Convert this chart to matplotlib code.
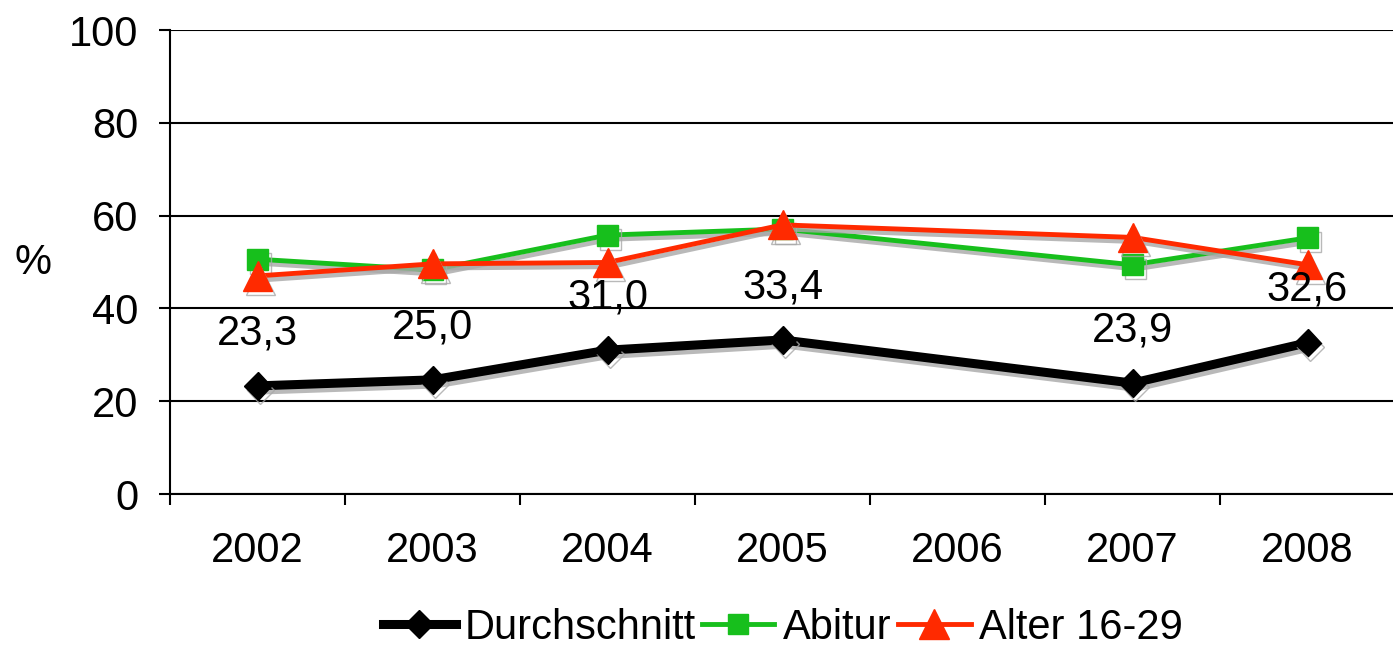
import numpy as np
import matplotlib.pyplot as plt
import matplotlib.patheffects as pe
from matplotlib.lines import Line2D

plt.rcParams['font.family'] = ['Liberation Sans', 'DejaVu Sans']

# Daten
jahre = ['2002', '2003', '2004', '2005', '2006', '2007', '2008']
durchschnitt = [23.3, 24.6, 31.0, 33.2, None, 23.9, 32.6]
durchschnitt_labels = ['23,3', '25,0', '31,0', '33,4', '', '23,9', '32,6']
abitur = [50.6, 48.3, 55.8, 57.1, None, 49.4, 55.2]
alter = [47.0, 49.6, 49.9, 58.0, None, 55.3, 49.4]

fig = plt.figure(figsize=(13.93, 6.47), dpi=100)
ax = fig.add_axes([170 / 1393, 1 - 494 / 647, 1225 / 1393, 464 / 647])

x = np.arange(len(jahre))


def serie(werte):
    w = np.array([np.nan if v is None else v for v in werte], dtype=float)
    m = ~np.isnan(w)
    return x[m], w[m]


schatten = [pe.SimpleLineShadow(offset=(2, -3), shadow_color='#a8a8a8', alpha=0.8), pe.Normal()]

stile = [
    (durchschnitt, 'Durchschnitt', dict(color='black', lw=6.5, marker='D', ms=14)),
    (abitur, 'Abitur', dict(color='#17bf1c', lw=3.5, marker='s', ms=15)),
    (alter, 'Alter 16-29', dict(color='#ff2a00', lw=3.5, marker='^', ms=21)),
]

handles = []
for i, (werte, name, st) in enumerate(stile):
    xs, ys = serie(werte)
    ax.plot(xs, ys, path_effects=schatten, zorder=3 + i, **st)
    handles.append(Line2D([], [], label=name, **st))

for xi, v, t in zip(x, durchschnitt, durchschnitt_labels):
    if v is None:
        continue
    ax.annotate(t, (xi, v), xytext=(0, 38), textcoords='offset points',
                ha='center', va='center', fontsize=30, zorder=6)

ax.set_xlim(-0.5, len(jahre) - 0.5)
ax.set_ylim(0, 100)
ax.set_yticks(np.arange(0, 101, 20))
ax.yaxis.grid(True, color='black', lw=1.5)
ax.set_axisbelow(True)

ax.set_xticks(x)
ax.set_xticklabels(jahre, fontsize=30)
ax.set_xticks(np.arange(-0.5, len(jahre), 1), minor=True)
ax.tick_params(axis='x', which='major', length=0, pad=27)
ax.tick_params(axis='x', which='minor', length=8, width=1.5, direction='out')
ax.tick_params(axis='y', labelsize=30, length=8, width=1.5, pad=15)

for s in ['top', 'right']:
    ax.spines[s].set_visible(False)
ax.spines['left'].set_linewidth(1.5)
ax.spines['bottom'].set_linewidth(1.5)

fig.text(33 / 1393, 1 - 263 / 647, '%', fontsize=30, ha='center', va='center')

fig.legend(handles=handles, loc='center', bbox_to_anchor=(0.562, 1 - 628 / 647), ncol=3,
           frameon=False, fontsize=30, handlelength=1.75, handletextpad=0.2,
           columnspacing=0.15, borderpad=0, borderaxespad=0)

fig.savefig('out.png', dpi=100)
